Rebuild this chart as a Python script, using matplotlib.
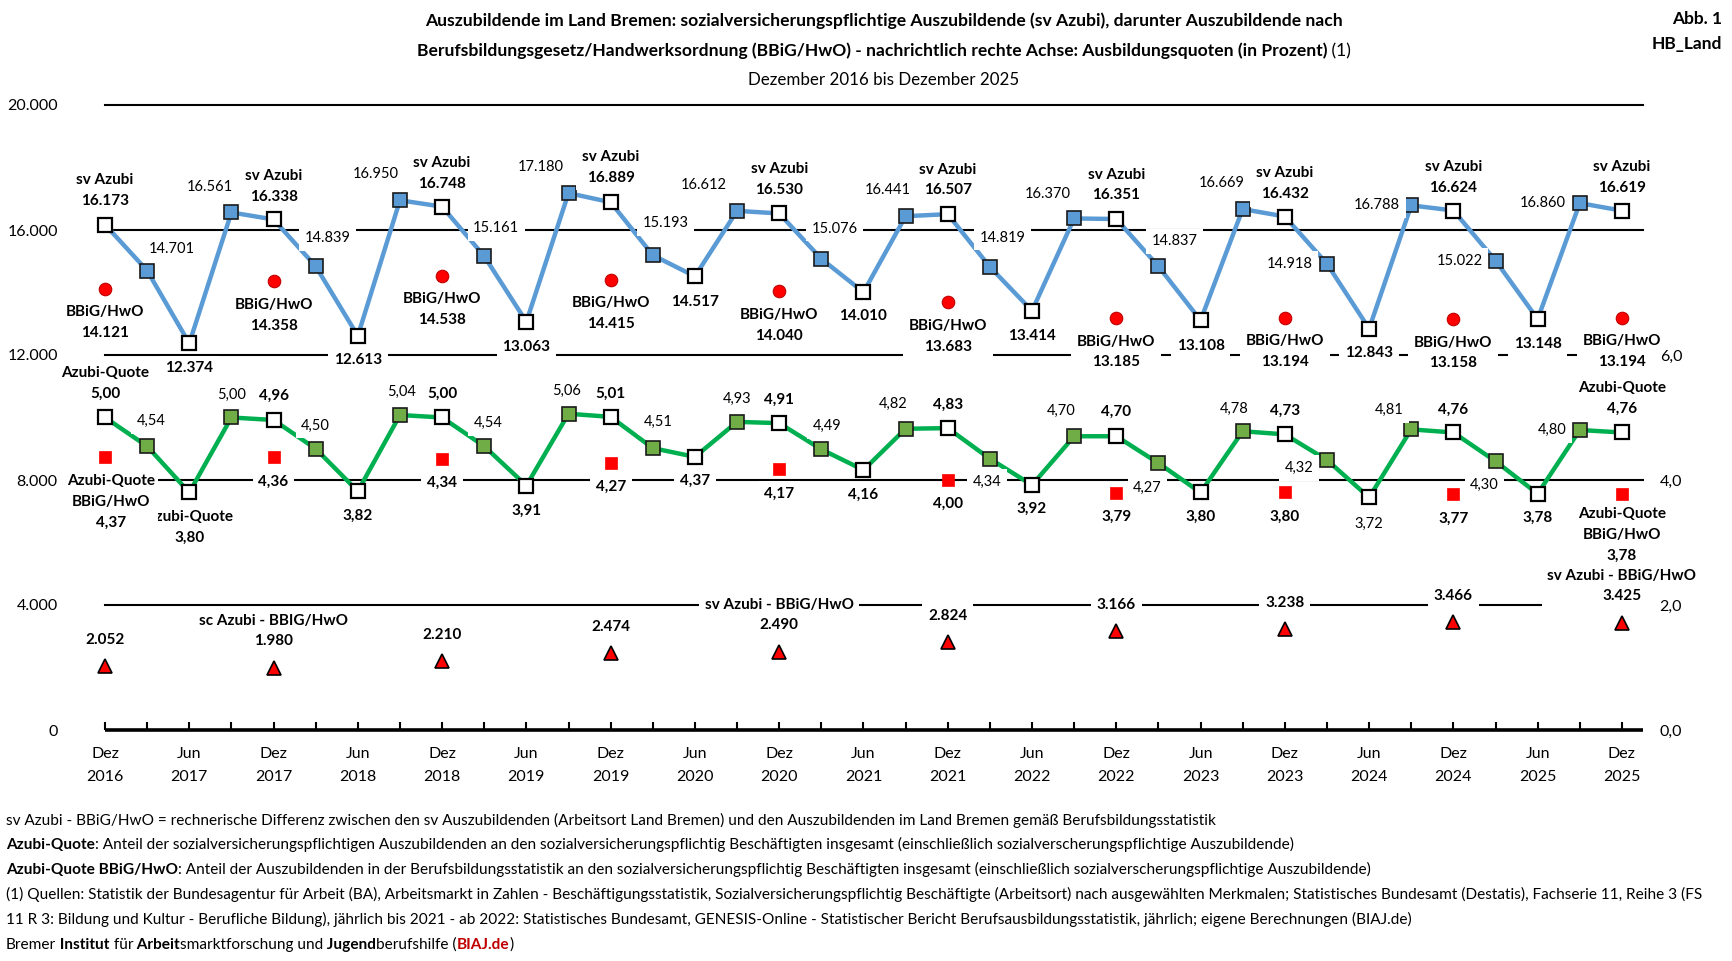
import numpy as np
import matplotlib.pyplot as plt

plt.rcParams['font.family'] = ['Lato', 'DejaVu Sans']

# quarterly values, Dez 2016 ... Dez 2025 (Dez, Mär, Jun, Sep, Dez, ...)
sv_azubi = np.array([16173, 14701, 12374, 16561, 16338, 14839, 12613, 16950, 16748,
                     15161, 13063, 17180, 16889, 15193, 14517, 16612, 16530, 15076,
                     14010, 16441, 16507, 14819, 13414, 16370, 16351, 14837, 13108,
                     16669, 16432, 14918, 12843, 16788, 16624, 15022, 13148, 16860,
                     16619])
azubi_quote = np.array([5.00, 4.54, 3.80, 5.00, 4.96, 4.50, 3.82, 5.04, 5.00, 4.54,
                        3.91, 5.06, 5.01, 4.51, 4.37, 4.93, 4.91, 4.49, 4.16, 4.82,
                        4.83, 4.34, 3.92, 4.70, 4.70, 4.27, 3.80, 4.78, 4.73, 4.32,
                        3.72, 4.81, 4.76, 4.30, 3.78, 4.80, 4.76])
# annual values (Dezember 2016 ... 2025)
bbig = np.array([14121, 14358, 14538, 14415, 14040, 13683, 13185, 13194, 13158, 13194])
quote_bbig = np.array([4.37, 4.36, 4.34, 4.27, 4.17, 4.00, 3.79, 3.80, 3.77, 3.78])
diff = np.array([2052, 1980, 2210, 2474, 2490, 2824, 3166, 3238, 3466, 3425])

years = list(range(2016, 2026))
tick_labels = []
for y in years:
    if y > 2016:
        tick_labels.append("Jun\n%d" % y)
    tick_labels.append("Dez\n%d" % y)

left_ticks = [0, 4000, 8000, 12000, 16000, 20000]
left_labels = ["0", "4.000", "8.000", "12.000", "16.000", "20.000"]
right_ticks = [0, 2, 4, 6]
right_labels = ["0,0", "2,0", "4,0", "6,0"]

# label offsets in pixels (dx, dy downwards)
sv_off = [(0, -34), (25, -22), (0, 25), (-22, -25), (0, -33), (12, -28), (0, 24),
          (-24, -26), (0, -33), (12, -28), (0, 25), (-28, -26), (0, -35), (13, -32),
          (0, 26), (-33, -26), (0, -34), (13, -30), (0, 24), (-18, -26), (0, -34),
          (13, -29), (0, 25), (-26, -24), (0, -34), (16, -25), (0, 26), (-21, -26),
          (0, -33), (-37, 0), (0, 24), (-34, 0), (0, -33), (-36, 0), (0, 25),
          (-37, 0), (0, -33)]
q_off = [(0, -34), (4, -25), (0, 35), (0, -23), (0, -24), (0, -23), (0, 25), (2, -23),
         (0, -24), (4, -23), (0, 25), (-2, -23), (0, -23), (5, -26), (0, 24), (0, -23),
         (0, -23), (6, -23), (0, 25), (-12, -25), (0, -23), (-3, 23), (0, 24),
         (-13, -25), (0, -24), (-11, 25), (0, 24), (-9, -22), (0, -24), (-28, 8),
         (0, 26), (-22, -19), (0, -23), (-11, 24), (0, 24), (-28, 0), (0, -34)]

blue = '#5B9BD5'
green = '#00B050'
green_m = '#70AD47'
red = '#FF0000'

W, H = 1732, 961
fig = plt.figure(figsize=(W / 100, H / 100), dpi=100)
ax = fig.add_axes([105 / W, 1 - 730 / H, (1643 - 105) / W, (730 - 105) / H])
ax2 = ax.twinx()

x = np.arange(len(sv_azubi))
xa = x[::4]


def de_int(v):
    return "{:,}".format(int(v)).replace(",", ".")


def de_q(v):
    return "{:.2f}".format(v).replace(".", ",")


def lab(a, xi, yv, text, off, bold=True, pad=0.38):
    a.annotate(text, (xi, yv), xytext=(off[0], -off[1]), textcoords='offset pixels',
               ha='center', va='center', fontsize=11 if bold else 10.5,
               fontweight='bold' if bold else 'normal', linespacing=1.6,
               bbox=dict(boxstyle='square,pad=%g' % pad, fc='white', ec='none'),
               zorder=6, annotation_clip=False)


# grid lines
for yv in left_ticks[1:]:
    ax.axhline(yv, color='black', lw=1.5, zorder=1, clip_on=False)

# sv Azubi
ax.plot(x, sv_azubi, color=blue, lw=3.2, zorder=3, clip_on=False)
ax.plot(x[1::2], sv_azubi[1::2], 's', ms=10, mfc=blue, mec='#1a1a1a', mew=1.2,
        zorder=4, clip_on=False)
ax.plot(x[0::2], sv_azubi[0::2], 's', ms=10, mfc='white', mec='black', mew=1.6,
        zorder=4, clip_on=False)
# BBiG/HwO and difference
ax.plot(xa, bbig, 'o', ms=9, mfc=red, mec='#C00000', mew=0.8, zorder=4, clip_on=False)
ax.plot(xa, diff, '^', ms=10, mfc=red, mec='black', mew=1.2, zorder=4, clip_on=False)

# quotes on right axis
ax2.plot(x, azubi_quote, color=green, lw=3.2, zorder=3, clip_on=False)
ax2.plot(x[1::2], azubi_quote[1::2], 's', ms=10, mfc=green_m, mec='#1a1a1a', mew=1.2,
         zorder=4, clip_on=False)
ax2.plot(x[0::2], azubi_quote[0::2], 's', ms=10, mfc='white', mec='black', mew=1.6,
         zorder=4, clip_on=False)
ax2.plot(xa, quote_bbig, 's', ms=8.5, mfc=red, mec=red, mew=0.5, zorder=4, clip_on=False)

# data labels
for i, v in enumerate(sv_azubi):
    t = de_int(v)
    if i % 4 == 0:
        t = "sv Azubi\n" + t
    lab(ax, i, v, t, sv_off[i], bold=(i % 2 == 0))
for k, v in enumerate(bbig):
    lab(ax, xa[k], v, "BBiG/HwO\n" + de_int(v), (0, 34))
for k, v in enumerate(diff):
    if k == 1:
        lab(ax, xa[k], v, "sc Azubi - BBIG/HwO\n" + de_int(v), (0, -37))
    elif k in (4, 9):
        lab(ax, xa[k], v, "sv Azubi - BBiG/HwO\n" + de_int(v), (0, -37))
    else:
        lab(ax, xa[k], v, de_int(v), (0, -26))
for i, v in enumerate(azubi_quote):
    t = de_q(v)
    if i in (0, 2, 36):
        t = "Azubi-Quote\n" + t
    lab(ax2, i, v, t, q_off[i], bold=(i % 2 == 0 and i != 30))
for k, v in enumerate(quote_bbig):
    if k == 0:
        lab(ax2, xa[k], v, "Azubi-Quote\nBBiG/HwO\n" + de_q(v), (6, 45), pad=0.2)
    elif k == len(quote_bbig) - 1:
        lab(ax2, xa[k], v, "Azubi-Quote\nBBiG/HwO\n" + de_q(v), (0, 41))
    else:
        lab(ax2, xa[k], v, de_q(v), (0, 24))

# axes
ax.set_xlim(0, 36.5)
ax.set_ylim(0, 20000)
ax2.set_ylim(0, 10)
ax.set_xticks(np.arange(0, 37, 2))
ax.set_xticklabels(tick_labels)
ax.set_xticks(np.arange(1, 37, 2), minor=True)
ax.tick_params(axis='x', which='both', direction='in', length=5.5, width=1.5,
               pad=12, labelsize=11.5, color='black')
for t in ax.get_xticklabels():
    t.set_linespacing(1.85)
ax.set_yticks(left_ticks)
ax.set_yticklabels(left_labels)
ax.tick_params(axis='y', length=0, pad=34, labelsize=11.5)
ax2.set_yticks(right_ticks)
ax2.set_yticklabels(right_labels)
ax2.tick_params(axis='y', length=0, pad=12, labelsize=11.5)
for a in (ax, ax2):
    for s in ('left', 'right', 'top'):
        a.spines[s].set_visible(False)
ax2.spines['bottom'].set_visible(False)
ax.spines['bottom'].set_linewidth(2.6)
ax.spines['bottom'].set_capstyle('butt')

# texts with mixed weights
renderer = fig.canvas.get_renderer()


def rich(xp, yp, parts, size, center=False):
    objs = []
    for s, wgt, col in parts:
        objs.append(fig.text(0, 0, s, fontsize=size, fontweight=wgt, color=col,
                             ha='left', va='baseline'))
    widths = [o.get_window_extent(renderer).width for o in objs]
    cur = xp - sum(widths) / 2 if center else xp
    for o, w in zip(objs, widths):
        o.set_position((cur / W, 1 - yp / H))
        cur += w


B, N, K = 'bold', 'normal', 'black'
rich(884, 26, [("Auszubildende im Land Bremen: sozialversicherungspflichtige Auszubildende "
                "(sv Azubi), darunter Auszubildende nach", B, K)], 12.6, center=True)
rich(884, 56, [("Berufsbildungsgesetz/Handwerksordnung (BBiG/HwO) - nachrichtlich rechte "
                "Achse: Ausbildungsquoten (in Prozent)", B, K), (" (1)", N, K)], 12.6,
     center=True)
rich(884, 85, [("Dezember 2016 bis Dezember 2025", N, K)], 12.2, center=True)
fig.text(1722 / W, 1 - 24 / H, "Abb. 1", fontsize=12.5, fontweight='bold', ha='right',
         va='baseline')
fig.text(1722 / W, 1 - 49 / H, "HB_Land", fontsize=12.5, fontweight='bold', ha='right',
         va='baseline')

fs = 11.05
rich(6, 825, [("sv Azubi - BBiG/HwO = rechnerische Differenz zwischen den sv Auszubildenden "
               "(Arbeitsort Land Bremen) und den Auszubildenden im Land Bremen gemäß "
               "Berufsbildungsstatistik", N, K)], fs)
rich(6, 849, [("Azubi-Quote", B, K),
              (": Anteil der sozialversicherungspflichtigen Auszubildenden an den "
               "sozialversicherungspflichtig Beschäftigten insgesamt (einschließlich "
               "sozialverscherungspflichtige Auszubildende)", N, K)], fs)
rich(6, 874, [("Azubi-Quote BBiG/HwO", B, K),
              (": Anteil der Auszubildenden in der Berufsbildungsstatistik an den "
               "sozialversicherungspflichtig Beschäftigten insgesamt (einschließlich "
               "sozialverscherungspflichtige Auszubildende)", N, K)], fs)
rich(6, 899, [("(1) Quellen: Statistik der Bundesagentur für Arbeit (BA), Arbeitsmarkt in "
               "Zahlen - Beschäftigungsstatistik, Sozialversicherungspflichtig Beschäftigte "
               "(Arbeitsort) nach ausgewählten Merkmalen; Statistisches Bundesamt "
               "(Destatis), Fachserie 11, Reihe 3 (FS", N, K)], fs)
rich(6, 924, [("11 R 3: Bildung und Kultur - Berufliche Bildung), jährlich bis 2021 - ab "
               "2022: Statistisches Bundesamt, GENESIS-Online - Statistischer Bericht "
               "Berufsausbildungsstatistik, jährlich; eigene Berechnungen (BIAJ.de)", N, K)],
     fs)
rich(6, 949, [("Bremer", N, K), (" Institut", B, K), (" für", N, K), (" Arbeit", B, K),
              ("smarktforschung und", N, K), (" Jugend", B, K), ("berufshilfe (", N, K),
              ("BIAJ.de", B, '#C00000'), (")", N, K)], fs)

fig.savefig('out.png', dpi=100)
